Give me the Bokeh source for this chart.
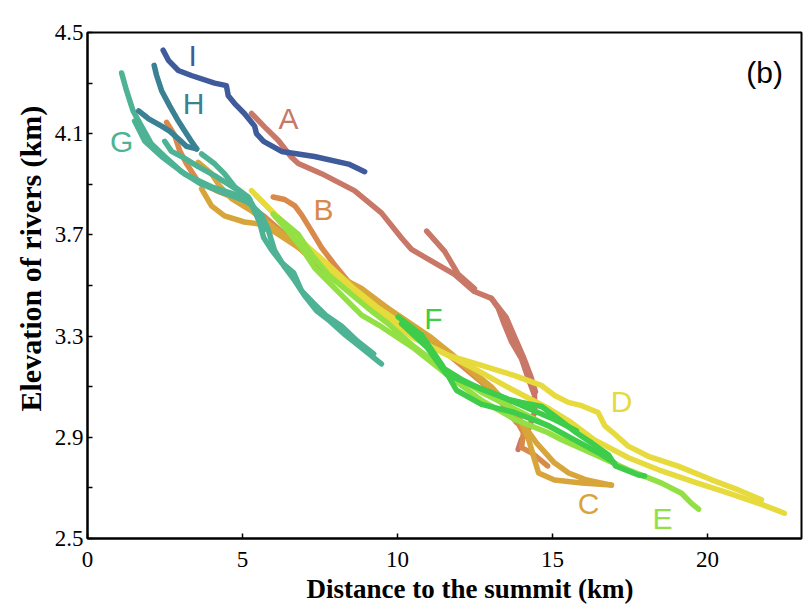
from bokeh.plotting import figure
from bokeh.models import Range1d, FixedTicker, Label, Title
from bokeh.embed import file_html
from bokeh.resources import INLINE

# ---- river profiles: distance to summit (km) / elevation (km) ----
A1_x = [5.29, 5.71, 6.15, 6.58, 6.80, 7.55, 8.61, 9.48, 10.13, 10.45, 11.10, 11.84, 12.48, 13.03, 13.25, 13.45, 13.68, 14.00, 14.22, 14.42, 14.42, 14.22, 14.00, 13.89]
A1_y = [4.180, 4.127, 4.074, 4.007, 3.982, 3.942, 3.875, 3.787, 3.688, 3.643, 3.596, 3.544, 3.476, 3.449, 3.410, 3.345, 3.277, 3.210, 3.131, 3.066, 2.998, 2.931, 2.892, 2.852]
A2_x = [10.94, 11.52, 11.96, 12.48]
A2_y = [3.715, 3.635, 3.544, 3.488]
A3_x = [13.03, 13.50, 13.80, 14.05, 14.30, 14.45]
A3_y = [3.449, 3.375, 3.290, 3.220, 3.140, 3.080]

B1_x = [5.99, 6.36, 6.69, 6.90, 7.23, 7.55, 7.98, 8.41, 8.84, 9.48, 10.13, 11.10, 12.06, 13.03, 13.68, 14.06, 14.00, 14.32, 14.84]
B1_y = [3.850, 3.840, 3.815, 3.780, 3.715, 3.650, 3.580, 3.516, 3.463, 3.410, 3.357, 3.277, 3.190, 3.098, 3.000, 2.918, 2.859, 2.839, 2.787]
B2_x = [2.55, 2.81, 2.97, 3.19, 3.55, 4.16, 4.97, 5.68, 6.42, 7.23, 8.03, 8.84, 9.81, 10.77, 11.74, 12.71, 13.35, 13.84]
B2_y = [4.145, 4.094, 4.034, 3.982, 3.914, 3.875, 3.835, 3.775, 3.695, 3.604, 3.516, 3.436, 3.364, 3.297, 3.217, 3.118, 3.038, 2.958]

C1_x = [3.57, 4.00, 4.26, 4.65, 5.29, 6.03, 6.48, 7.23, 7.97, 8.84, 9.71, 10.77, 11.74, 12.71, 13.52, 14.00, 14.23, 14.42, 14.55, 15.06, 15.94, 16.90]
C1_y = [3.987, 3.942, 3.894, 3.843, 3.795, 3.727, 3.687, 3.604, 3.544, 3.488, 3.408, 3.317, 3.229, 3.125, 3.038, 2.958, 2.890, 2.811, 2.759, 2.731, 2.719, 2.711]
C2_x = [3.68, 4.00, 4.42, 5.06, 5.55, 6.10, 6.74, 7.55, 8.35, 9.16, 10.13, 11.10, 12.06, 13.03, 13.74, 14.06, 14.48, 15.06, 15.52, 16.10, 16.90]
C2_y = [3.882, 3.815, 3.775, 3.751, 3.743, 3.707, 3.655, 3.588, 3.516, 3.452, 3.373, 3.293, 3.197, 3.098, 3.006, 2.950, 2.878, 2.799, 2.759, 2.731, 2.711]

D1_x = [5.29, 5.83, 6.47, 7.12, 7.76, 8.41, 9.05, 9.48, 10.55, 11.64, 12.71, 13.78, 14.65, 15.07, 15.51, 15.94, 16.47, 16.69, 17.01, 17.44, 18.09, 19.05, 20.13, 20.99, 21.74]
D1_y = [3.875, 3.808, 3.728, 3.649, 3.569, 3.489, 3.423, 3.384, 3.290, 3.224, 3.184, 3.144, 3.104, 3.065, 3.038, 3.025, 2.998, 2.945, 2.912, 2.865, 2.825, 2.786, 2.732, 2.692, 2.653]
D2_x = [5.45, 6.10, 6.90, 7.71, 8.52, 9.32, 10.13, 11.10, 12.39, 13.68, 14.81, 15.61, 16.35, 17.45, 18.52, 19.58, 20.68, 21.74, 22.48]
D2_y = [3.855, 3.775, 3.675, 3.588, 3.496, 3.416, 3.349, 3.257, 3.177, 3.090, 3.018, 2.958, 2.890, 2.819, 2.767, 2.723, 2.679, 2.635, 2.600]

E1_x = [5.99, 6.47, 6.90, 7.33, 7.76, 8.30, 8.84, 9.48, 10.55, 11.64, 12.71, 13.78, 14.86, 15.29, 16.36, 17.44, 18.52, 19.16, 19.48, 19.71]
E1_y = [3.782, 3.715, 3.649, 3.569, 3.516, 3.449, 3.383, 3.337, 3.250, 3.144, 3.046, 2.971, 2.918, 2.890, 2.832, 2.772, 2.719, 2.679, 2.639, 2.616]
E2_x = [6.15, 6.80, 7.23, 7.76, 8.41, 9.05, 9.70, 10.55, 11.42, 12.71, 14.00, 14.97, 15.94]
E2_y = [3.768, 3.702, 3.622, 3.543, 3.476, 3.410, 3.349, 3.257, 3.177, 3.078, 2.998, 2.938, 2.867]

F1_x = [10.02, 10.77, 11.10, 11.42, 12.06, 12.71, 13.58, 14.00, 14.65, 15.13, 15.77, 16.26, 16.81, 17.03, 17.77, 17.97]
F1_y = [3.376, 3.305, 3.237, 3.177, 3.129, 3.090, 3.050, 3.038, 3.022, 2.978, 2.918, 2.878, 2.830, 2.787, 2.751, 2.747]
F2_x = [10.77, 11.42, 11.90, 12.71, 13.77, 14.87, 15.71, 16.48, 17.00]
F2_y = [3.305, 3.189, 3.086, 3.030, 2.998, 2.946, 2.890, 2.839, 2.799]
F3_x = [10.13, 10.94, 11.58, 12.39, 13.26, 14.23, 15.06, 15.77]
F3_y = [3.349, 3.257, 3.149, 3.106, 3.066, 3.014, 2.970, 2.926]

G1_x = [1.10, 1.26, 1.47, 1.74, 2.06, 2.49, 3.03, 3.68, 4.32, 5.18, 5.61, 5.83, 6.03, 6.32, 6.68, 7.00, 7.39, 7.81, 8.26, 8.77, 9.48]
G1_y = [4.34, 4.27, 4.19, 4.13, 4.06, 4.01, 3.95, 3.90, 3.87, 3.83, 3.78, 3.72, 3.64, 3.58, 3.52, 3.46, 3.40, 3.36, 3.31, 3.26, 3.19]
G2_x = [1.52, 1.85, 2.39, 3.14, 4.00, 4.75, 5.29, 5.55, 5.68, 5.94, 6.26, 6.65, 6.90, 7.29, 7.71, 8.19, 8.71, 9.23]
G2_y = [4.15, 4.07, 4.01, 3.94, 3.89, 3.86, 3.82, 3.75, 3.69, 3.64, 3.59, 3.55, 3.48, 3.43, 3.38, 3.34, 3.28, 3.23]
G3_x = [2.49, 2.71, 3.03, 3.57, 4.16, 4.81, 5.23]
G3_y = [4.07, 4.03, 4.01, 3.97, 3.93, 3.88, 3.84]
G4_x = [3.68, 4.11, 4.43, 4.75, 5.18, 5.45, 5.68]
G4_y = [4.02, 3.98, 3.94, 3.89, 3.85, 3.79, 3.72]

H1_x = [2.15, 2.23, 2.39, 2.65, 2.93, 3.14, 3.35, 3.52]
H1_y = [4.37, 4.33, 4.27, 4.21, 4.15, 4.11, 4.07, 4.04]
H2_x = [1.65, 1.96, 2.39, 2.65, 2.93, 3.19, 3.52]
H2_y = [4.19, 4.16, 4.13, 4.11, 4.08, 4.05, 4.04]

I1_x = [2.44, 2.61, 2.93, 3.35, 4.10, 4.48, 4.54, 4.74, 5.06, 5.39, 5.45, 5.68, 6.26, 7.32, 8.42, 8.94]
I1_y = [4.43, 4.39, 4.35, 4.33, 4.30, 4.29, 4.25, 4.22, 4.18, 4.13, 4.10, 4.07, 4.03, 4.01, 3.98, 3.95]

river_names = ["A", "B", "C", "D", "E", "G", "H", "I", "F"]
river_branches = {
    "A": [(A1_x, A1_y), (A2_x, A2_y), (A3_x, A3_y)],
    "B": [(B1_x, B1_y), (B2_x, B2_y)],
    "C": [(C1_x, C1_y), (C2_x, C2_y)],
    "D": [(D1_x, D1_y), (D2_x, D2_y)],
    "E": [(E1_x, E1_y), (E2_x, E2_y)],
    "F": [(F1_x, F1_y), (F2_x, F2_y), (F3_x, F3_y)],
    "G": [(G1_x, G1_y), (G2_x, G2_y), (G3_x, G3_y), (G4_x, G4_y)],
    "H": [(H1_x, H1_y), (H2_x, H2_y)],
    "I": [(I1_x, I1_y)],
}
river_colors = {
    "A": "#c97767", "B": "#d98a4b", "C": "#d8a53a", "D": "#e6da3c",
    "E": "#92e044", "F": "#3ecc4b", "G": "#4eb394", "H": "#3a8194", "I": "#3f5b9b",
}
# label anchor positions (km, km)
label_pos = {
    "A": (6.48, 4.16), "B": (7.61, 3.80), "C": (16.16, 2.64), "D": (17.23, 3.04),
    "E": (18.55, 2.58), "F": (11.16, 3.37), "G": (1.10, 4.07), "H": (3.42, 4.22),
    "I": (3.39, 4.41),
}

x_ticks = [0, 5, 10, 15, 20]
y_ticks = [2.5, 2.9, 3.3, 3.7, 4.1, 4.5]
y_minor = [2.7, 3.1, 3.5, 3.9, 4.3]
x_title = "Distance to the summit (km)"
y_title = "Elevation of rivers (km)"

p = figure(width=806, height=606, output_backend="svg", toolbar_location=None,
           x_range=Range1d(0, 23.03), y_range=Range1d(2.5, 4.5),
           min_border_left=87, min_border_right=5, min_border_top=32, min_border_bottom=68)
p.xgrid.visible = False
p.ygrid.visible = False
p.background_fill_color = "white"
p.border_fill_color = "white"
p.outline_line_color = "black"
p.outline_line_width = 2
p.outline_line_alpha = 1

for name in river_names:
    for xs, ys in river_branches[name]:
        p.line(xs, ys, line_color=river_colors[name], line_width=5.5,
               line_cap="round", line_join="round")

for name, (lx, ly) in label_pos.items():
    p.add_layout(Label(x=lx, y=ly, text=name, text_color=river_colors[name],
                       text_font="Liberation Sans", text_font_size="30px",
                       text_align="center", text_baseline="middle"))

p.add_layout(Label(x=21.84, y=4.34, text="(b)", text_color="black",
                   text_font="Liberation Sans", text_font_size="30px",
                   text_align="center", text_baseline="middle"))

for ax in (p.xaxis[0], p.yaxis[0]):
    ax.axis_line_color = "black"
    ax.axis_line_width = 2
    ax.major_tick_line_color = "black"
    ax.major_tick_line_width = 1.5
    ax.major_tick_in = 5
    ax.major_tick_out = 0
    ax.minor_tick_line_color = "black"
    ax.minor_tick_line_width = 1.5
    ax.minor_tick_in = 5
    ax.minor_tick_out = 0
    ax.major_label_text_font = "Liberation Serif"
    ax.major_label_text_font_size = "23px"
    ax.major_label_text_color = "black"

p.xaxis[0].ticker = FixedTicker(ticks=x_ticks, minor_ticks=[])
p.yaxis[0].ticker = FixedTicker(ticks=y_ticks, minor_ticks=y_minor)
p.xaxis[0].major_label_standoff = 13
p.yaxis[0].major_label_standoff = 4

p.add_layout(Title(text=x_title, align="left", offset=219, standoff=4,
                   text_font="Liberation Serif", text_font_style="bold",
                   text_font_size="27px", text_color="black"), "below")
p.add_layout(Title(text=y_title, align="left", offset=127, standoff=10,
                   text_font="Liberation Serif", text_font_style="bold",
                   text_font_size="30px", text_color="black"), "left")

open("out.html", "w").write(file_html(p, INLINE))
